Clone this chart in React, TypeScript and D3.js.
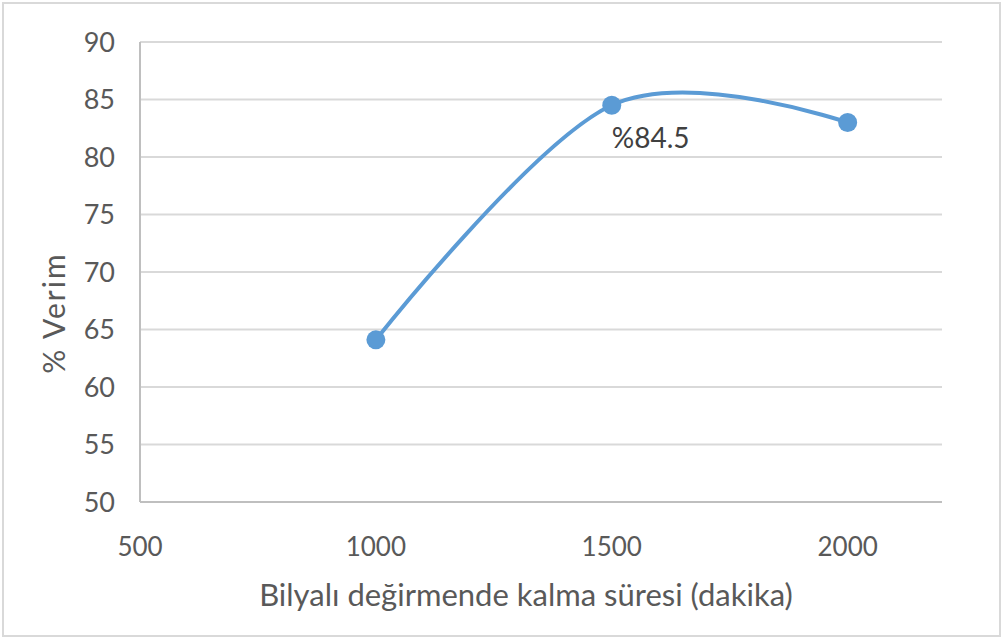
import React from "react";
import * as d3 from "d3";

const xValues = [1000, 1500, 2000];
const yValues = [64.1, 84.5, 83.0];
const yTicks = [50, 55, 60, 65, 70, 75, 80, 85, 90];
const xTicks = [500, 1000, 1500, 2000];
const dataLabel = { index: 1, text: "%84.5" };
const xTitle = "Bilyalı değirmende kalma süresi (dakika)";
const yTitle = "% Verim";

const W = 1003;
const H = 639;
const M = { left: 140, right: 61, top: 42, bottom: 137 };
const FONT = "Lato, 'Open Sans', sans-serif";
const TXT = "#595959";

export default function App() {
  const x = d3.scaleLinear().domain([500, 2200]).range([M.left, W - M.right]);
  const y = d3.scaleLinear().domain([50, 90]).range([H - M.bottom, M.top]);
  const pts: [number, number][] = xValues.map((v, i) => [x(v), y(yValues[i])]);
  const line = d3.line().curve(d3.curveCardinal.tension(0))(pts) || "";
  return (
    <svg width={W} height={H} style={{ position: "absolute", left: 0, top: 0, background: "#fff" }}>
      <rect x={3} y={3} width={W - 6} height={H - 6} fill="#fff" stroke="#d9d9d9" strokeWidth={2} />
      {yTicks.map((t) => (
        <line key={"g" + t} x1={x(500)} x2={x(2200)} y1={y(t)} y2={y(t)} stroke="#d9d9d9" strokeWidth={2} />
      ))}
      <line x1={x(500)} x2={x(500)} y1={y(50)} y2={y(90)} stroke="#bfbfbf" strokeWidth={2} />
      <line x1={x(500)} x2={x(2200)} y1={y(50)} y2={y(50)} stroke="#bfbfbf" strokeWidth={2} />
      {yTicks.map((t) => (
        <text key={"yl" + t} x={115} y={y(t)} dy="0.36em" textAnchor="end" fontFamily={FONT} fontSize={27} fill={TXT}>
          {t}
        </text>
      ))}
      {xTicks.map((t) => (
        <text key={"xl" + t} x={x(t)} y={556} textAnchor="middle" fontFamily={FONT} fontSize={26} fill={TXT}>
          {t}
        </text>
      ))}
      <text x={526} y={606} textAnchor="middle" fontFamily={FONT} fontSize={31} fill={TXT}>
        {xTitle}
      </text>
      <text
        transform={`translate(65, ${313}) rotate(-90)`}
        textAnchor="middle"
        fontFamily={FONT}
        fontSize={30}
        fill={TXT}
        letterSpacing={2}
      >
        {yTitle}
      </text>
      <path d={line} fill="none" stroke="#5b9bd5" strokeWidth={4} strokeLinecap="round" />
      {pts.map((p, i) => (
        <circle key={"c" + i} cx={p[0]} cy={p[1]} r={9.5} fill="#5b9bd5" />
      ))}
      <text
        x={pts[dataLabel.index][0]}
        y={pts[dataLabel.index][1] + 43}
        fontFamily={FONT}
        fontSize={28}
        fill="#404040"
      >
        {dataLabel.text}
      </text>
    </svg>
  );
}
